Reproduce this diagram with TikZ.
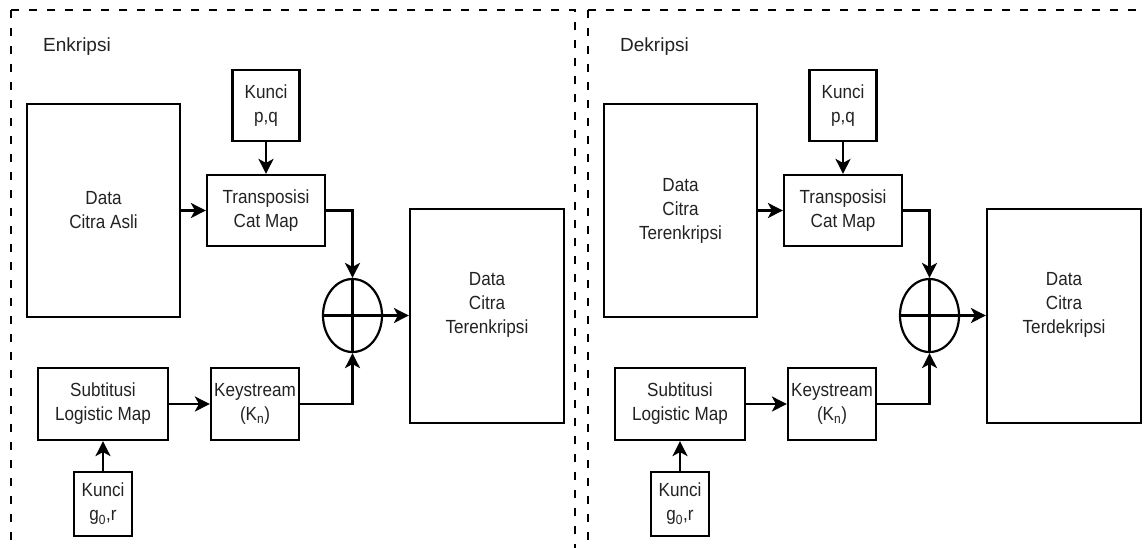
\documentclass[tikz,border=0pt]{standalone}
\usepackage{fontspec}
\setmainfont{Liberation Sans}[FakeStretch=0.9]
\newfontfamily\titlefont{Liberation Sans}
\usetikzlibrary{arrows.meta,shapes.geometric}
\definecolor{txt}{HTML}{222222}
\newcommand\drawpanel[5]{%
\begin{scope}[xshift=#2pt]
\draw[frame] (11,10) rectangle (575,575);
\node[ttl] (ttl#1) at (43,47) {#3};
\node[box, minimum width=153pt, minimum height=213pt] (dat#1) at (103.5,210.5) {#4};
\node[box, minimum width=67pt, minimum height=71pt] (kpq#1) at (266,105.5) {Kunci\\p,q};
\node[box, minimum width=118pt, minimum height=71pt] (trn#1) at (266,210.5) {Transposisi\\Cat Map};
\node[xorc] (xor#1) at (352.5,315.5) {};
\node[box, minimum width=154pt, minimum height=214pt] (out#1) at (487,316) {};
\node[lbl] (outt#1) at (487,305) {#5};
\node[box, minimum width=130pt, minimum height=72pt] (sub#1) at (103,404) {Subtitusi\\Logistic Map};
\node[box, minimum width=88pt, minimum height=72pt] (key#1) at (255,404) {Keystream\\(K\textsubscript{n})};
\node[box, minimum width=58pt, minimum height=64pt] (kgr#1) at (103,504) {Kunci\\g\textsubscript{0},r};
\draw[thick2] (xor#1.north) -- (xor#1.south);
\draw[thick2] (xor#1.west) -- (xor#1.east);
\draw[arr] (kpq#1) -- (trn#1);
\draw[arr] (dat#1.east |- trn#1.west) -- (trn#1.west);
\draw[arr] (trn#1.east) -| (xor#1.north);
\draw[arr] (sub#1) -- (key#1);
\draw[arr] (key#1.east) -| (xor#1.south);
\draw[arr] (kgr#1) -- (sub#1);
\draw[arr] (xor#1.east) -- (xor#1.east -| out#1.west);
\end{scope}}
\begin{document}
\begin{tikzpicture}[x=1pt,y=-1pt,
  box/.style={draw=black, line width=2.2pt, inner sep=0pt, align=center,
    font=\fontsize{19}{24}\selectfont, text=txt},
  lbl/.style={inner sep=0pt, align=center, font=\fontsize{19}{24}\selectfont, text=txt},
  xorc/.style={draw=black, line width=2.2pt, ellipse, inner sep=0pt,
    minimum width=59pt, minimum height=73pt},
  thick2/.style={line width=2.2pt},
  arr/.style={line width=2.2pt, -{Stealth[length=15pt,width=15pt,inset=4pt]}},
  frame/.style={draw=black, line width=2.2pt, dash pattern=on 8pt off 10pt},
  ttl/.style={font=\titlefont\fontsize{19}{24}\selectfont, text=txt, anchor=west, inner sep=0pt}]
\useasboundingbox (0,0) rectangle (1145,547);
\clip (0,0) rectangle (1145,547);
\drawpanel{L}{0}{Enkripsi}{Data\\Citra Asli}{Data\\Citra\\Terenkripsi}
\drawpanel{R}{577}{Dekripsi}{Data\\Citra\\Terenkripsi}{Data\\Citra\\Terdekripsi}
\end{tikzpicture}
\end{document}
